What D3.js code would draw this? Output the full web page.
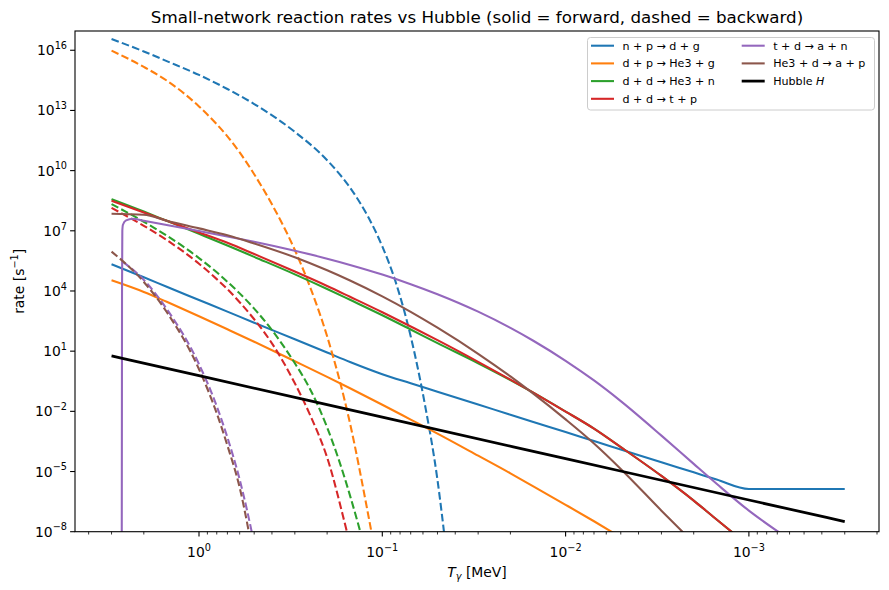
<!DOCTYPE html>
<html>
<head>
<meta charset="utf-8">
<script src="https://cdn.jsdelivr.net/npm/d3@7"></script>
<style>
  body { margin: 0; background: #fff; }
  text { font-family: "DejaVu Sans", sans-serif; fill: #000; }
</style>
</head>
<body>
<svg id="chart" width="889" height="590"></svg>
<script>
// temperature grids [MeV]
const tGrid = [3, 2, 1.5, 1, 0.7, 0.5, 0.3, 0.2, 0.15, 0.1, 0.07, 0.05, 0.03, 0.02, 0.015, 0.01, 0.007, 0.005, 0.003, 0.002, 0.0015, 0.001, 0.0007, 0.0005, 0.0003];
const tHot = [3, 2, 1.5, 1, 0.8, 0.7, 0.6, 0.5, 0.4, 0.3, 0.25, 0.2, 0.15, 0.12, 0.1];
const npBwdT = [3, 2, 1.5, 1, 0.7, 0.5, 0.3, 0.2, 0.15, 0.12, 0.1, 0.084, 0.07, 0.0585, 0.05, 0.045];
const tdT = [2.66, 2.64, 2.63, 2.62, 2.6, 2.5, 2.3, 2, 1.5, 1, 0.7, 0.5, 0.3, 0.2, 0.15, 0.1, 0.07, 0.05, 0.03, 0.02, 0.015, 0.01, 0.007, 0.005, 0.003, 0.002, 0.0015, 0.001, 0.0007, 0.0005];
const tdBwdT = [2.6, 2, 1.5, 1, 0.8, 0.7, 0.6, 0.5, 0.4];
const hubbleT = [3, 1, 0.1, 0.01, 0.001, 0.0003];

// rates [1/s]
const npFwd = [2.14e5, 4.79e4, 1.62e4, 3.55e3, 933, 263, 38.9, 8.5, 2.88, 0.708, 0.251, 0.0955, 0.0219, 6.76e-3, 2.95e-3, 9.33e-4, 3.31e-4, 1.26e-4, 2.88e-5, 9.12e-6, 3.98e-6, 1.35e-6, 1.35e-6, 1.35e-6, 1.35e-6];
const npBwd = [3.63e16, 8.71e15, 2.88e15, 5.89e14, 1.17e14, 2.09e13, 8.51e11, 3.31e10, 1.41e9, 5.37e7, 1.66e6, 2.34e4, 55, 0.0209, 3.8e-6, 1.55e-9];
const dpFwd = [3.39e4, 8.91e3, 2.88e3, 550, 123, 29.5, 3.16, 0.525, 0.141, 0.0214, 3.89e-3, 7.76e-4, 6.17e-5, 8.13e-6, 1.82e-6, 2.19e-7, 3.31e-8, 5.25e-9, 3e-10];
const dpBwd = [9.55e15, 1.48e15, 3.09e14, 1.58e13, 2.04e12, 5.13e11, 8.13e10, 6.61e9, 2.09e8, 1.1e6, 1.95e4, 55, 2.51e-3, 9.12e-8, 1e-11];
const ddnFwd = [3.8e8, 9.12e7, 3.16e7, 7.08e6, 1.86e6, 5.01e5, 6.76e4, 1.26e4, 3.63e3, 617, 120, 25.1, 2.51, 0.363, 0.0851, 9.77e-3, 1.38e-3, 1.66e-4, 6.03e-6, 3.55e-7, 4.07e-8, 1.95e-9, 1.38e-10];
const ddnBwd = [2.14e8, 2.82e7, 5.75e6, 4.37e5, 8.51e4, 2.88e4, 7.59e3, 1.32e3, 112, 2.51, 0.151, 1.58e-3, 6.31e-7, 3.16e-10, 1e-13];
const ddpFwd = [3.16e8, 8.13e7, 3.16e7, 8.32e6, 2.51e6, 6.92e5, 9.33e4, 1.78e4, 5.13e3, 871, 170, 35.5, 2.95, 0.38, 0.0851, 9.77e-3, 1.38e-3, 1.66e-4, 6.03e-6, 3.55e-7, 4.07e-8, 1.95e-9, 1.38e-10];
const ddpBwd = [1.38e8, 1.78e7, 3.47e6, 2.29e5, 3.89e4, 1.23e4, 2.75e3, 389, 24.5, 0.251, 7.94e-3, 5.01e-5, 2.51e-9, 1e-12];
const tdFwd = [1e-12, 1e-10, 1e4, 1e7, 2e7, 3.31e7, 3.98e7, 3.16e7, 1.95e7, 9.77e6, 5.25e6, 2.82e6, 1e6, 4.07e5, 2e5, 6.61e4, 2.19e4, 6.92e3, 933, 145, 33.1, 3.31, 0.347, 0.0324, 6.17e-4, 2.4e-5, 2.45e-6, 1.12e-7, 1.07e-8, 1.38e-9];
const tdBwd = [2.82e5, 3.55e4, 1.26e3, 2.24, 0.0178, 5.01e-4, 3.98e-6, 2.51e-9, 3.16e-14];
const hedFwd = [7.08e7, 6.31e7, 3.16e7, 1.32e7, 6.03e6, 2.34e6, 4.79e5, 1.07e5, 3.31e4, 5.37e3, 912, 148, 7.41, 0.55, 0.0759, 3.98e-3, 2.51e-4, 1.35e-5, 1.12e-7, 2.75e-9, 2e-10];
const hedBwd = [9.12e5, 2.82e4, 891, 1.26, 7.94e-3, 2e-4, 1.58e-6, 4e-10, 1e-14];
const hubbleRate = [5.75, 0.6, 5.1e-3, 4.4e-5, 3.8e-7, 3.2e-8];

const reactions = [
  {label: "n + p \u2192 d + g", color: "#1f77b4", fwd: [tGrid, npFwd], bwd: [npBwdT, npBwd]},
  {label: "d + p \u2192 He3 + g", color: "#ff7f0e", fwd: [tGrid, dpFwd], bwd: [tHot, dpBwd]},
  {label: "d + d \u2192 He3 + n", color: "#2ca02c", fwd: [tGrid, ddnFwd], bwd: [tHot, ddnBwd]},
  {label: "d + d \u2192 t + p", color: "#d62728", fwd: [tGrid, ddpFwd], bwd: [tHot, ddpBwd]},
  {label: "t + d \u2192 a + n", color: "#9467bd", fwd: [tdT, tdFwd], bwd: [tdBwdT, tdBwd]},
  {label: "He3 + d \u2192 a + p", color: "#8c564b", fwd: [tGrid, hedFwd], bwd: [tHot, hedBwd]}
];

const svg = d3.select("#chart");
const plotL = 75, plotR = 879, plotT = 31, plotB = 531.7;

const x = d3.scaleLog().domain([Math.pow(10, 0.6765), Math.pow(10, -3.7098)]).range([plotL, plotR]);
const y = d3.scaleLog().domain([1e-8, Math.pow(10, 16.96)]).range([plotB, plotT]);

svg.append("defs").append("clipPath").attr("id", "plot")
  .append("rect").attr("x", plotL).attr("y", plotT).attr("width", plotR - plotL).attr("height", plotB - plotT);

const zip = (ts, vs) => vs.map((v, i) => ({T: ts[i], v: v}));
const line = d3.line()
  .x(d => x(d.T))
  .y(d => y(d.v))
  .curve(d3.curveMonotoneX);

const g = svg.append("g").attr("clip-path", "url(#plot)");

reactions.forEach(r => {
  g.append("path")
    .attr("d", line(zip(r.fwd[0], r.fwd[1])))
    .attr("fill", "none").attr("stroke", r.color).attr("stroke-width", 2.08);
  g.append("path")
    .attr("d", line(zip(r.bwd[0], r.bwd[1])))
    .attr("fill", "none").attr("stroke", r.color).attr("stroke-width", 2.08)
    .attr("stroke-dasharray", "7.7,3.3");
});

g.append("path")
  .attr("d", line(zip(hubbleT, hubbleRate)))
  .attr("fill", "none").attr("stroke", "#000").attr("stroke-width", 2.78);

// axes frame
svg.append("rect")
  .attr("x", plotL).attr("y", plotT).attr("width", plotR - plotL).attr("height", plotB - plotT)
  .attr("fill", "none").attr("stroke", "#000").attr("stroke-width", 1.1);

function powLabel(sel, exp, size) {
  sel.append("tspan").text("10");
  sel.append("tspan")
    .attr("dy", -0.45 * size)
    .attr("font-size", size * 0.7)
    .text(String(exp).replace("-", "\u2212"));
}

// x ticks
const xMajor = [1, 0.1, 0.01, 0.001];
const xMinor = [];
for (let e = -4; e <= 0; e++) {
  for (let k = 2; k <= 9; k++) {
    const v = k * Math.pow(10, e);
    if (v < x.domain()[0] && v > x.domain()[1]) xMinor.push(v);
  }
}
xMinor.forEach(v => {
  svg.append("line").attr("x1", x(v)).attr("x2", x(v))
    .attr("y1", plotB).attr("y2", plotB + 2.8)
    .attr("stroke", "#000").attr("stroke-width", 0.8);
});
xMajor.forEach(v => {
  svg.append("line").attr("x1", x(v)).attr("x2", x(v))
    .attr("y1", plotB).attr("y2", plotB + 4.9)
    .attr("stroke", "#000").attr("stroke-width", 1.1);
  const t = svg.append("text").attr("x", x(v)).attr("y", 557)
    .attr("text-anchor", "middle").attr("font-size", 13.9);
  powLabel(t, Math.round(Math.log10(v)), 13.9);
});

// y ticks
const yMajor = [-8, -5, -2, 1, 4, 7, 10, 13, 16];
yMajor.forEach(e => {
  const v = Math.pow(10, e);
  svg.append("line").attr("x1", plotL - 4.9).attr("x2", plotL)
    .attr("y1", y(v)).attr("y2", y(v))
    .attr("stroke", "#000").attr("stroke-width", 1.1);
  const t = svg.append("text").attr("x", plotL - 8).attr("y", y(v) + 5)
    .attr("text-anchor", "end").attr("font-size", 13.9);
  powLabel(t, e, 13.9);
});

// titles
svg.append("text").attr("x", (plotL + plotR) / 2).attr("y", 23)
  .attr("text-anchor", "middle").attr("font-size", 16.7)
  .text("Small-network reaction rates vs Hubble (solid = forward, dashed = backward)");

const xl = svg.append("text").attr("x", (plotL + plotR) / 2).attr("y", 577)
  .attr("text-anchor", "middle").attr("font-size", 13.9);
xl.append("tspan").attr("font-style", "italic").text("T");
xl.append("tspan").attr("font-style", "italic").attr("font-size", 9.7).attr("dy", 3).text("\u03b3");
xl.append("tspan").attr("dy", -3).text(" [MeV]");

const yl = svg.append("text")
  .attr("transform", `translate(24, ${(plotT + plotB) / 2}) rotate(-90)`)
  .attr("text-anchor", "middle").attr("font-size", 13.9);
yl.append("tspan").text("rate [s");
yl.append("tspan").attr("font-size", 9.7).attr("dy", -6).text("\u22121");
yl.append("tspan").attr("dy", 6).text("]");

// legend
const legend = svg.append("g");
legend.append("rect")
  .attr("x", 587.5).attr("y", 37.5).attr("width", 287).attr("height", 72.5)
  .attr("rx", 3).attr("fill", "#fff").attr("fill-opacity", 0.8)
  .attr("stroke", "#cccccc").attr("stroke-width", 1);

const entries = reactions.map(r => ({label: r.label, color: r.color, width: 2.08}))
  .concat([{label: "Hubble ", italic: "H", color: "#000", width: 2.78}]);
const rowY = [45.7, 63.4, 81.1, 98.8];
entries.forEach((e, i) => {
  const col = i < 4 ? 0 : 1;
  const row = i < 4 ? i : i - 4;
  const lx = col === 0 ? 591 : 741.7;
  const ly = rowY[row];
  legend.append("line").attr("x1", lx).attr("x2", lx + 23)
    .attr("y1", ly).attr("y2", ly)
    .attr("stroke", e.color).attr("stroke-width", e.width);
  const t = legend.append("text").attr("x", lx + 31.5).attr("y", ly + 4)
    .attr("font-size", 11.1);
  t.append("tspan").text(e.label);
  if (e.italic) t.append("tspan").attr("font-style", "italic").text(e.italic);
});
</script>
</body>
</html>
